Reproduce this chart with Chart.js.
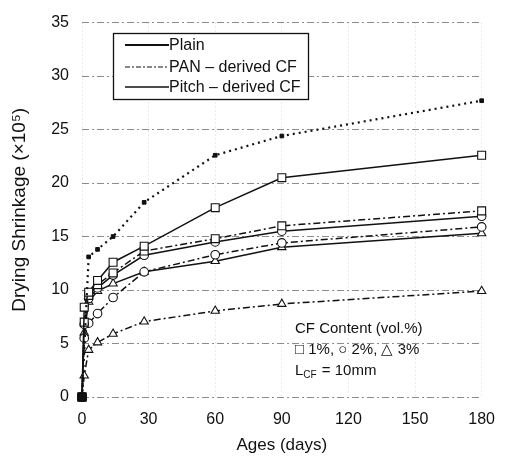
<!DOCTYPE html>
<html><head><meta charset="utf-8">
<script src="https://cdn.jsdelivr.net/npm/chart.js@4.4.1/dist/chart.umd.min.js"></script>
<style>html,body{margin:0;padding:0;background:#fff}#wrap{width:508px;height:460px}</style>
</head><body><div id="wrap"><canvas id="c" width="508" height="460"></canvas></div>
<script>
// ---- data ----
const ages   = [0, 1, 3, 7, 14, 28, 60, 90, 180];
const plain  = [0, null, 13.1, 13.8, 15.0, 18.2, 22.6, 24.4, 27.7];
const pitch1 = [0, 8.4, 9.8, 10.9, 12.6, 14.1, 17.7, 20.5, 22.6];
const pan1   = [0, 7.0, 9.5, 10.5, 11.6, 13.65, 14.8, 16.0, 17.4];
const pitch2 = [0, 6.8, 9.2, 10.2, 11.4, 13.25, 14.5, 15.5, 16.9];
const pan2   = [0, 5.5, 6.9, 7.8, 9.3, 11.7, 13.3, 14.4, 15.9];
const pitch3 = [0, 6.0, 8.9, 9.9, 10.6, 11.7, 12.7, 14.0, 15.3];
const pan3   = [0, 2.0, 4.4, 5.1, 5.9, 7.05, 8.05, 8.7, 9.9];
const yTicks = [0, 5, 10, 15, 20, 25, 30, 35];
const xTicks = [0, 30, 60, 90, 120, 150, 180];
const legendLabels = ['Plain', 'PAN \u2013 derived CF', 'Pitch \u2013 derived CF'];
const noteLines = ['CF Content (vol.%)', '\u25A1 1%, \u25CB 2%, \u25B3 3%'];

const FONT = "'Liberation Sans', Arial, Helvetica, sans-serif";
const INK = '#111';
const DASHDOT = [7, 3, 2, 3];

function pts(arr) { return ages.map((a, i) => ({x: a, y: arr[i]})); }
function ds(label, arr, style, dash, width) {
  const base = {
    label, data: pts(arr), borderColor: INK, borderWidth: width,
    borderDash: dash, tension: 0, spanGaps: true, clip: false,
    pointBorderColor: INK, pointBorderWidth: 1.1, pointBackgroundColor: '#fff'
  };
  if (style === 'rect') base.pointRadius = 5.6;
  else if (style === 'circle') base.pointRadius = 4.3;
  else if (style === 'triangle') base.pointRadius = 4.8;
  base.pointStyle = style;
  return base;
}

const datasets = [
  Object.assign(ds('Plain', plain, 'rect', [2, 4], 2.2), {
    pointRadius: c => (c.dataIndex === 0 ? 5.8 : 2.6),
    pointBackgroundColor: INK, pointBorderWidth: 1, order: -1
  }),
  ds('Pitch 1%', pitch1, 'rect', [], 1.5),
  ds('PAN 1%', pan1, 'rect', DASHDOT, 1.5),
  ds('Pitch 2%', pitch2, 'circle', [], 1.5),
  ds('PAN 2%', pan2, 'circle', DASHDOT, 1.5),
  ds('Pitch 3%', pitch3, 'triangle', [], 1.5),
  ds('PAN 3%', pan3, 'triangle', DASHDOT, 1.5)
];

const overlay = {
  id: 'overlay',
  afterDraw(chart) {
    const ctx = chart.ctx;
    ctx.save();
    // legend box
    ctx.fillStyle = '#fff';
    ctx.fillRect(113, 33, 195, 66);
    ctx.strokeStyle = INK; ctx.lineWidth = 1.3; ctx.setLineDash([]);
    ctx.strokeRect(113.5, 33.5, 195, 66);
    const rows = [46, 68, 88];
    const styles = [{d: [], w: 2}, {d: [5, 2, 2, 2], w: 1.2}, {d: [], w: 1.6}];
    ctx.font = '16px ' + FONT;
    ctx.textBaseline = 'middle'; ctx.textAlign = 'left';
    rows.forEach((y, i) => {
      ctx.beginPath();
      ctx.setLineDash(styles[i].d); ctx.lineWidth = styles[i].w;
      ctx.moveTo(125, y - 1); ctx.lineTo(169, y - 1); ctx.stroke();
      ctx.setLineDash([]);
      ctx.fillStyle = INK;
      ctx.fillText(legendLabels[i], 169, y);
    });
    // annotation
    ctx.font = '15px ' + FONT;
    ctx.fillText(noteLines[0], 295, 329);
    ctx.fillText(noteLines[1], 295, 350);
    let x = 295;
    ctx.fillText('L', x, 371); x += ctx.measureText('L').width;
    ctx.font = '10px ' + FONT;
    ctx.fillText('CF', x, 375); x += ctx.measureText('CF').width + 1;
    ctx.font = '15px ' + FONT;
    ctx.fillText(' = 10mm', x, 371);
    ctx.restore();
  }
};

new Chart(document.getElementById('c'), {
  type: 'line',
  data: { datasets },
  plugins: [overlay],
  options: {
    responsive: false, animation: false, devicePixelRatio: 1,
    layout: { padding: { top: 16, right: 21, left: 0, bottom: 0 } },
    plugins: { legend: { display: false }, tooltip: { enabled: false } },
    scales: {
      x: {
        type: 'linear', min: 0, max: 180,
        afterFit(s) { s.height = 63; },
        afterBuildTicks(s) { s.ticks = xTicks.map(v => ({value: v})); },
        ticks: { color: INK, font: { family: FONT, size: 16 }, padding: 13, maxRotation: 0 },
        grid: { color: 'rgba(0,0,0,0.16)', lineWidth: 1, drawTicks: false },
        border: { display: false, dash: [1, 3] },
        title: { display: true, text: 'Ages (days)', color: INK, font: { family: FONT, size: 17 }, padding: { top: 0, bottom: 4 } }
      },
      y: {
        type: 'linear', min: 0, max: 35,
        afterFit(s) { s.width = 82; },
        afterBuildTicks(s) { s.ticks = yTicks.map(v => ({value: v})); },
        ticks: { color: INK, font: { family: FONT, size: 16 }, padding: 13 },
        grid: { color: '#8c8c8c', lineWidth: 1, drawTicks: false },
        border: { display: false, dash: DASHDOT },
        title: { display: true, text: 'Drying Shrinkage (\u00D710\u2075)', color: INK, font: { family: FONT, size: 19 }, padding: { top: 8, bottom: 0 } }
      }
    }
  }
});
</script></body></html>
